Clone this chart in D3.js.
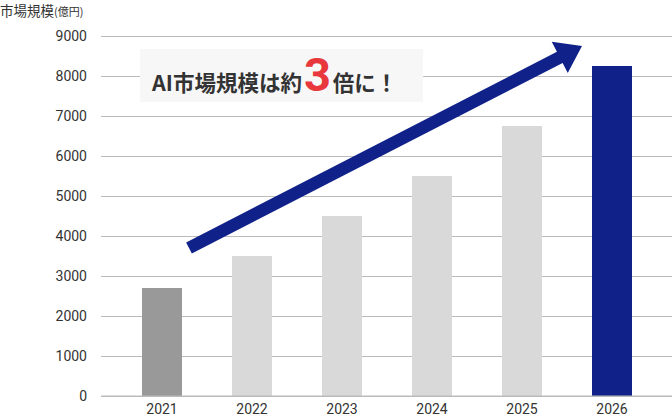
<!DOCTYPE html>
<html>
<head>
<meta charset="utf-8">
<script src="https://cdn.jsdelivr.net/npm/d3@7"></script>
<style>
  html, body { margin: 0; padding: 0; background: #fff; }
  svg { display: block; }
</style>
</head>
<body>
<svg id="chart" width="672" height="418"></svg>
<script>
// data
let years = ["2021", "2022", "2023", "2024", "2025", "2026"]
let market_size = [2700, 3500, 4500, 5500, 6750, 8250]
let bar_colors = ["#999999", "#d9d9d9", "#d9d9d9", "#d9d9d9", "#d9d9d9", "#10228a"]
let y_ticks = [0, 1000, 2000, 3000, 4000, 5000, 6000, 7000, 8000, 9000]

// arrow annotation, anchored in data units
let arrow_from = { year: "2021", dx: 27, value: 3700 }
let arrow_to = { year: "2026", dx: -30, value: 8750 }

let width = 672
let height = 418

let svg = d3.select('#chart')

let x = d3.scaleBand()
    .domain(years)
    .range([117, 657])
    .paddingInner(5 / 9)
    .paddingOuter(5 / 18)

let y = d3.scaleLinear()
    .domain([0, 9000])
    .range([396, 36])

// grid + y labels
let y_axis = d3.axisLeft(y)
    .tickValues(y_ticks)
    .tickFormat(d3.format('d'))
    .tickSize(0)
    .tickPadding(14)

let y_g = svg.append('g')
    .attr('transform', 'translate(101,0)')
    .call(y_axis)
    .attr('font-size', 14)
    .attr('font-family', 'Roboto, "Noto Sans", sans-serif')
y_g.select('.domain').remove()
y_g.selectAll('.tick text')
    .attr('fill', '#333')
y_g.selectAll('.tick line')
    .attr('x2', width - 101)
    .attr('stroke', '#bbbbbb')
    .attr('stroke-width', 1)

// bars
svg.append('g')
    .selectAll('rect')
    .data(years)
    .join('rect')
    .attr('x', (d) => x(d))
    .attr('y', (d, i) => y(market_size[i]))
    .attr('width', x.bandwidth())
    .attr('height', (d, i) => y(0) - y(market_size[i]))
    .attr('fill', (d, i) => bar_colors[i])

// baseline on top of bars
svg.append('line')
    .attr('x1', 101).attr('x2', width)
    .attr('y1', y(0)).attr('y2', y(0))
    .attr('stroke', '#bbbbbb')

// x labels
let x_axis = d3.axisBottom(x).tickSize(0).tickPadding(8)
let x_g = svg.append('g')
    .attr('transform', `translate(0,${y(0)})`)
    .call(x_axis)
    .attr('font-size', 14)
    .attr('font-family', 'Roboto, "Noto Sans", sans-serif')
x_g.select('.domain').remove()
x_g.selectAll('.tick text')
    .attr('fill', '#333')

// y title
let title = svg.append('text')
    .attr('x', 0)
    .attr('y', 16)
    .attr('fill', '#333')
    .attr('font-family', '"Noto Sans CJK JP", sans-serif')
title.append('tspan').attr('font-size', 13.5).text('市場規模')
title.append('tspan').attr('font-size', 11).text('(億円)')

// arrow
function arrowPath(p0, p1, shaft, head_w, head_l) {
    let dx = p1[0] - p0[0]
    let dy = p1[1] - p0[1]
    let len = Math.sqrt(dx * dx + dy * dy)
    let ux = dx / len, uy = dy / len
    let nx = -uy, ny = ux
    let bx = p1[0] - ux * head_l, by = p1[1] - uy * head_l
    let pts = [
        [p0[0] + nx * shaft / 2, p0[1] + ny * shaft / 2],
        [bx + nx * shaft / 2, by + ny * shaft / 2],
        [bx + nx * head_w / 2, by + ny * head_w / 2],
        p1,
        [bx - nx * head_w / 2, by - ny * head_w / 2],
        [bx - nx * shaft / 2, by - ny * shaft / 2],
        [p0[0] - nx * shaft / 2, p0[1] - ny * shaft / 2]
    ]
    return 'M' + pts.map((p) => p.join(',')).join('L') + 'Z'
}

let a0 = [x(arrow_from.year) + x.bandwidth() / 2 + arrow_from.dx, y(arrow_from.value)]
let a1 = [x(arrow_to.year) + x.bandwidth() / 2 + arrow_to.dx, y(arrow_to.value)]

svg.append('path')
    .attr('d', arrowPath(a0, a1, 12.5, 35, 25))
    .attr('fill', '#10228a')

// callout
svg.append('rect')
    .attr('x', 140).attr('y', 49)
    .attr('width', 283).attr('height', 53)
    .attr('fill', '#f7f7f7')

let callout = svg.append('text')
    .attr('x', 152)
    .attr('y', 91)
    .attr('fill', '#333')
    .attr('font-weight', 'bold')
    .attr('font-family', '"Noto Sans CJK JP", sans-serif')
callout.append('tspan').attr('font-size', 21.5).text('AI市場規模は約')
callout.append('tspan')
    .attr('font-size', 47)
    .attr('fill', '#e8383d')
    .attr('font-family', 'Roboto, sans-serif')
    .attr('dx', 2)
    .text('3')
callout.append('tspan').attr('font-size', 21.5).attr('dx', 2).text('倍に！')
</script>
</body>
</html>
